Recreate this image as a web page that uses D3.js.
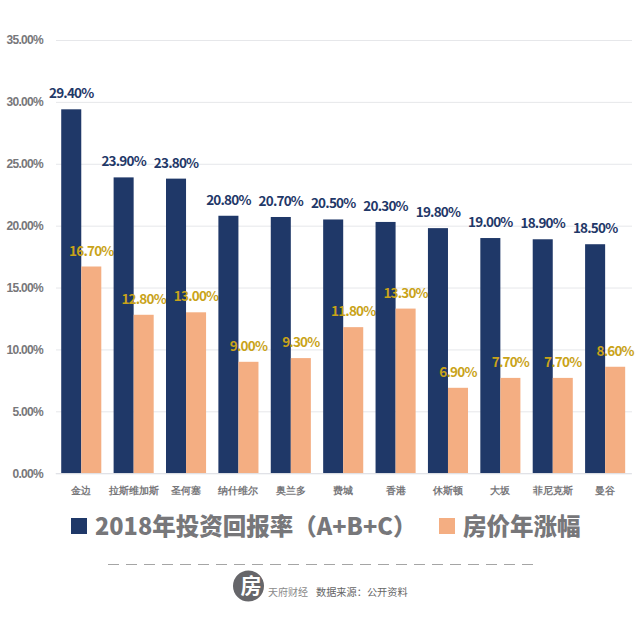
<!DOCTYPE html>
<html>
<head>
<meta charset="utf-8">
<script src="https://cdn.jsdelivr.net/npm/d3@7"></script>
<style>
html, body { margin: 0; padding: 0; background: #fff; }
svg { display: block; font-family: "Noto Sans CJK SC", "Noto Sans", sans-serif; }
</style>
</head>
<body>
<div id="chart"></div>
<script>
const cities = ["金边", "拉斯维加斯", "圣何塞", "纳什维尔", "奥兰多", "费城", "香港", "休斯顿", "大坂", "菲尼克斯", "曼谷"];
const returns = [29.4, 23.9, 23.8, 20.8, 20.7, 20.5, 20.3, 19.8, 19.0, 18.9, 18.5];
const priceRises = [16.7, 12.8, 13.0, 9.0, 9.3, 11.8, 13.3, 6.9, 7.7, 7.7, 8.6];
const yTicks = [0, 5, 10, 15, 20, 25, 30, 35];
const seriesNames = ["2018年投资回报率（A+B+C）", "房价年涨幅"];

const navy = "#1f3868";
const peach = "#f4ae82";
const gold = "#c9a319";
const grey = "#77777a";

const svg = d3.select("#chart").append("svg")
    .attr("width", 640)
    .attr("height", 626);

const x = d3.scaleBand()
    .domain(cities)
    .range([55.2, 631.2])
    .paddingInner(0.235)
    .paddingOuter(0.115);

const series = d3.scaleBand()
    .domain([0, 1])
    .range([0, x.bandwidth()]);

const y = d3.scaleLinear()
    .domain([0, 35])
    .range([473.2, 40]);

// gridlines + y labels
const yAxis = svg.append("g")
    .attr("transform", "translate(56,0)")
    .call(d3.axisLeft(y)
        .tickValues(yTicks)
        .tickSize(-576)
        .tickPadding(13)
        .tickFormat(d => d.toFixed(2) + "%"));

yAxis.select(".domain").remove();
yAxis.selectAll("line").attr("stroke", "#e6e7ea").attr("stroke-width", 1);
yAxis.selectAll("text")
    .attr("fill", grey)
    .attr("font-size", 12)
    .attr("letter-spacing", -0.7)
    .attr("font-weight", 700);

// bars
const groups = svg.append("g")
    .selectAll("g")
    .data(cities)
    .join("g")
    .attr("transform", d => `translate(${x(d)},0)`);

groups.append("rect")
    .attr("x", series(0))
    .attr("y", (d, i) => y(returns[i]))
    .attr("width", series.bandwidth())
    .attr("height", (d, i) => y(0) - y(returns[i]))
    .attr("fill", navy);

groups.append("rect")
    .attr("x", series(1))
    .attr("y", (d, i) => y(priceRises[i]))
    .attr("width", series.bandwidth())
    .attr("height", (d, i) => y(0) - y(priceRises[i]))
    .attr("fill", peach);

groups.append("text")
    .attr("x", series(0) + series.bandwidth() / 2)
    .attr("y", (d, i) => y(returns[i]) - 11)
    .attr("text-anchor", "middle")
    .attr("fill", navy)
    .attr("font-size", 13.5)
    .attr("font-weight", 700)
    .attr("letter-spacing", -0.8)
    .text((d, i) => returns[i].toFixed(2) + "%");

groups.append("text")
    .attr("x", series(1) + series.bandwidth() / 2)
    .attr("y", (d, i) => y(priceRises[i]) - 11)
    .attr("text-anchor", "middle")
    .attr("fill", gold)
    .attr("font-size", 13.5)
    .attr("font-weight", 700)
    .attr("letter-spacing", -0.8)
    .text((d, i) => priceRises[i].toFixed(2) + "%");

// x axis labels
const xAxis = svg.append("g")
    .attr("transform", `translate(0,${y(0)})`)
    .call(d3.axisBottom(x).tickSize(0).tickPadding(14));

xAxis.select(".domain").attr("stroke", "#dfe1e6");
xAxis.selectAll("text")
    .attr("fill", grey)
    .attr("font-size", 9.5)
    .attr("font-weight", 700);

// legend
const legendX = [71, 439];
const legend = svg.append("g")
    .selectAll("g")
    .data(seriesNames)
    .join("g")
    .attr("transform", (d, i) => `translate(${legendX[i]},518)`);

legend.append("rect")
    .attr("width", 16)
    .attr("height", 16)
    .attr("fill", (d, i) => i === 0 ? navy : peach);

legend.append("text")
    .attr("x", 24)
    .attr("y", 16.5)
    .attr("fill", grey)
    .attr("font-size", 23.5)
    .attr("font-weight", 900)
    .text(d => d);

// footer
svg.append("line")
    .attr("x1", 108)
    .attr("x2", 533)
    .attr("y1", 564.5)
    .attr("y2", 564.5)
    .attr("stroke", "#a5a5a5")
    .attr("stroke-width", 1)
    .attr("stroke-dasharray", "11 7");

svg.append("circle")
    .attr("cx", 248.5)
    .attr("cy", 586)
    .attr("r", 15.5)
    .attr("fill", "#66666a");

svg.append("text")
    .attr("x", 251)
    .attr("y", 593)
    .attr("text-anchor", "middle")
    .attr("fill", "#fff")
    .attr("font-size", 21)
    .attr("font-weight", 700)
    .text("房");

svg.append("text")
    .attr("x", 268)
    .attr("y", 596)
    .attr("fill", "#8a8a8a")
    .attr("font-size", 10)
    .text("天府财经");

svg.append("text")
    .attr("x", 316)
    .attr("y", 596)
    .attr("fill", "#666")
    .attr("font-size", 10.2)
    .text("数据来源：公开资料");
</script>
</body>
</html>
